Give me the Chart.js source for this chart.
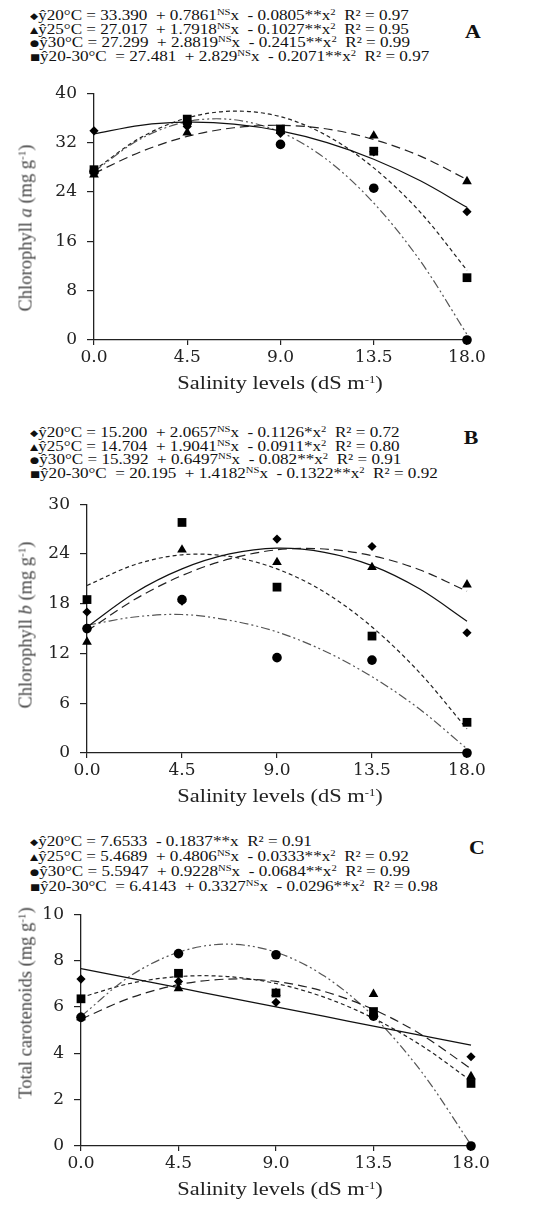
<!DOCTYPE html>
<html>
<head>
<meta charset="utf-8">
<script src="https://cdn.jsdelivr.net/npm/chart.js@4.4.1/dist/chart.umd.min.js"></script>
<style>
  body { margin: 0; width: 534px; height: 1209px; background: #fff; position: relative; overflow: hidden;
         font-family: "Liberation Serif", "Times New Roman", serif; color: #111; }
  canvas { position: absolute; left: 0; }
  .eq { position: absolute; left: 30px; font-size: 14.5px; white-space: pre; transform: scaleX(1.18); transform-origin: 0 0; }
  .eq div { height: 13.5px; line-height: 13.5px; }
  .eq sup { font-size: 9px; vertical-align: 5px; line-height: 0; }
  .eq .mk { font-size: 9px; font-family: "DejaVu Sans", sans-serif; vertical-align: 1px; }
  .tag { position: absolute; font-weight: bold; font-size: 19px; transform: translate(-50%, -50%) scaleX(1.15); }
  .ytitle { position: absolute; transform: translate(-50%, -50%) rotate(-90deg); white-space: nowrap;
            font-size: 18.5px; color: #444; }
  .ytitle sup, .xtitle sup { font-size: 11px; vertical-align: 6px; line-height: 0; }
  .xtitle { position: absolute; transform: translate(-50%, -50%) scaleX(1.15); white-space: nowrap; font-size: 19.5px; color: #222; }
</style>
</head>
<body>
<script>
// x levels and tick labels
const salinity = [0, 4.5, 9, 13.5, 18];
const curveX = [0, 2.25, 4.5, 6.75, 9, 11.25, 13.5, 15.75, 18];
const seriesNames = ['20°C', '25°C', '30°C', '20-30°C'];

// A - chlorophyll a
const yTicksA = [0, 8, 16, 24, 32, 40];
const chlA20 = [33.9, 34.6, 33.5, 30.5, 20.8];
const chlA25 = [26.8, 33.6, 33.9, 33.1, 25.7];
const chlA30 = [27.3, 35.2, 31.7, 24.6, 0];
const chlA2030 = [27.6, 35.8, 34.2, 30.6, 10.1];
const fitA20 = [33.4, 34.8, 35.3, 35.0, 33.9, 32.0, 29.3, 25.8, 21.5];
const fitA25 = [27.0, 30.5, 33.0, 34.4, 34.8, 34.2, 32.5, 29.8, 26.0];
const fitA30 = [27.3, 32.6, 35.4, 35.7, 33.7, 29.2, 22.2, 12.8, 0.9];
const fitA2030 = [27.5, 32.8, 36.0, 37.1, 36.2, 33.1, 27.9, 20.7, 11.3];
const eqA = [
  ['◆', 'ŷ20°C = 33.390  + 0.7861<sup>NS</sup>x  - 0.0805**x<sup>2</sup>  R² = 0.97'],
  ['▲', 'ŷ25°C = 27.017  + 1.7918<sup>NS</sup>x  - 0.1027**x<sup>2</sup>  R² = 0.95'],
  ['●', 'ŷ30°C = 27.299  + 2.8819<sup>NS</sup>x  - 0.2415**x<sup>2</sup>  R² = 0.99'],
  ['■', 'ŷ20-30°C  = 27.481  + 2.829<sup>NS</sup>x  - 0.2071**x<sup>2</sup>  R² = 0.97']
];

// B - chlorophyll b
const yTicksB = [0, 6, 12, 18, 24, 30];
const chlB20 = [17.0, 18.3, 25.8, 24.9, 14.5];
const chlB25 = [13.4, 24.5, 23.0, 22.4, 20.3];
const chlB30 = [15.0, 18.5, 11.5, 11.2, 0];
const chlB2030 = [18.5, 27.8, 20.0, 14.1, 3.7];
const fitB20 = [15.2, 19.3, 22.2, 24.0, 24.7, 24.2, 22.6, 19.8, 15.9];
const fitB25 = [14.7, 18.5, 21.4, 23.4, 24.5, 24.6, 23.8, 22.1, 19.5];
const fitB30 = [15.4, 16.4, 16.7, 16.0, 14.6, 12.3, 9.2, 5.3, 0.5];
const fitB2030 = [20.2, 22.7, 23.9, 23.7, 22.2, 19.4, 15.2, 9.7, 2.9];
const eqB = [
  ['◆', 'ŷ20°C = 15.200  + 2.0657<sup>NS</sup>x  - 0.1126*x<sup>2</sup>  R² = 0.72'],
  ['▲', 'ŷ25°C = 14.704  + 1.9041<sup>NS</sup>x  - 0.0911*x<sup>2</sup>  R² = 0.80'],
  ['●', 'ŷ30°C = 15.392  + 0.6497<sup>NS</sup>x  - 0.082**x<sup>2</sup>  R² = 0.91'],
  ['■', 'ŷ20-30°C  = 20.195  + 1.4182<sup>NS</sup>x  - 0.1322**x<sup>2</sup>  R² = 0.92']
];

// C - total carotenoids
const yTicksC = [0, 2, 4, 6, 8, 10];
const carC20 = [7.2, 7.1, 6.2, 5.6, 3.85];
const carC25 = [5.55, 6.8, 6.6, 6.55, 3.0];
const carC30 = [5.55, 8.3, 8.25, 5.6, 0];
const carC2030 = [6.35, 7.45, 6.6, 5.8, 2.7];
const fitC20 = [7.65, 7.24, 6.83, 6.41, 6.0, 5.59, 5.17, 4.76, 4.35];
const fitC25 = [5.47, 6.38, 6.96, 7.2, 7.1, 6.66, 5.89, 4.78, 3.33];
const fitC30 = [5.59, 7.32, 8.36, 8.71, 8.36, 7.32, 5.59, 3.16, 0.05];
const fitC2030 = [6.41, 7.01, 7.31, 7.31, 7.01, 6.41, 5.51, 4.31, 2.81];
const eqC = [
  ['◆', 'ŷ20°C = 7.6533  - 0.1837**x  R² = 0.91'],
  ['▲', 'ŷ25°C = 5.4689  + 0.4806<sup>NS</sup>x  - 0.0333**x<sup>2</sup>  R² = 0.92'],
  ['●', 'ŷ30°C = 5.5947  + 0.9228<sup>NS</sup>x  - 0.0684**x<sup>2</sup>  R² = 0.99'],
  ['■', 'ŷ20-30°C  = 6.4143  + 0.3327<sup>NS</sup>x  - 0.0296**x<sup>2</sup>  R² = 0.98']
];

// marker + line look for each temperature
const seriesStyle = [
  { point: 'rectRot', radius: 4.6, dash: [], color: '#111' },
  { point: 'triangle', radius: 5.6, dash: [9, 5], color: '#222' },
  { point: 'circle', radius: 4.8, dash: [9, 3, 2, 3, 2, 3], color: '#555' },
  { point: 'rect', radius: 6.2, dash: [4, 3], color: '#222' }
];

function addText(cls, html, left, top) {
  const d = document.createElement('div');
  d.className = cls;
  d.innerHTML = html;
  d.style.left = left + 'px';
  d.style.top = top + 'px';
  document.body.appendChild(d);
  return d;
}

function buildDatasets(obs, fits) {
  const sets = [];
  obs.forEach((vals, i) => {
    const st = seriesStyle[i];
    sets.push({
      label: seriesNames[i],
      data: salinity.map((x, j) => ({ x: x, y: vals[j] })),
      showLine: false,
      pointStyle: st.point,
      pointRadius: st.radius,
      backgroundColor: '#000',
      borderColor: '#000',
      borderWidth: 0,
      clip: false,
      order: 1
    });
  });
  fits.forEach((vals, i) => {
    const st = seriesStyle[i];
    sets.push({
      label: seriesNames[i] + ' fit',
      data: curveX.map((x, j) => ({ x: x, y: vals[j] })),
      showLine: true,
      pointRadius: 0,
      borderColor: st.color,
      borderWidth: 1.2,
      borderDash: st.dash,
      tension: 0.33,
      fill: false,
      clip: false,
      order: 2
    });
  });
  return sets;
}

function makePanel(p) {
  const padTop = 12, xAxisH = 34;
  const canvasTop = p.top - padTop;
  const canvas = document.createElement('canvas');
  canvas.width = 534;
  canvas.height = p.bottom + xAxisH - canvasTop;
  canvas.style.top = canvasTop + 'px';
  document.body.appendChild(canvas);

  const axisColor = '#222';
  const tickFont = { family: "'DejaVu Serif', serif", size: 17 };

  new Chart(canvas.getContext('2d'), {
    type: 'scatter',
    data: { datasets: buildDatasets(p.obs, p.fits) },
    options: {
      responsive: false,
      animation: false,
      layout: { padding: { top: padTop, right: 534 - p.right, left: 0, bottom: 0 } },
      plugins: { legend: { display: false }, tooltip: { enabled: false } },
      scales: {
        x: {
          type: 'linear',
          min: salinity[0],
          max: salinity[salinity.length - 1],
          afterBuildTicks: s => { s.ticks = salinity.map(v => ({ value: v })); },
          afterFit: s => { s.height = xAxisH; },
          ticks: { callback: v => v.toFixed(1), font: tickFont, color: axisColor, padding: 2, maxRotation: 0, autoSkip: false },
          grid: { drawOnChartArea: false, tickLength: 5, color: axisColor, lineWidth: 1.2 },
          border: { color: axisColor, width: 1.3 }
        },
        y: {
          min: p.yTicks[0],
          max: p.yTicks[p.yTicks.length - 1],
          afterBuildTicks: s => { s.ticks = p.yTicks.map(v => ({ value: v })); },
          afterFit: s => { s.width = p.left; },
          ticks: { font: tickFont, color: axisColor, padding: 10 },
          grid: { drawOnChartArea: false, tickLength: 7, color: axisColor, lineWidth: 1.2 },
          border: { color: axisColor, width: 1.3 }
        }
      }
    }
  });

  // equations above the plot
  const eq = addText('eq', p.eq.map(r => '<div><span class="mk">' + r[0] + '</span>' + r[1] + '</div>').join(''), 30, p.eqTop);
  eq.querySelectorAll('div').forEach(d => { d.style.height = p.eqGap + 'px'; d.style.lineHeight = p.eqGap + 'px'; });
  addText('tag', p.tag, p.tagX, p.tagY);
  addText('ytitle', p.yTitle, 26, p.yTitleY);
  addText('xtitle', 'Salinity levels (dS m<sup>-1</sup>)', 280, p.bottom + 43);
}

document.addEventListener('DOMContentLoaded', () => {
  makePanel({
    top: 85, bottom: 340, left: 94, right: 467, yTicks: yTicksA,
    obs: [chlA20, chlA25, chlA30, chlA2030], fits: [fitA20, fitA25, fitA30, fitA2030],
    eq: eqA, eqTop: 9, eqGap: 13.5, tag: 'A', tagX: 473, tagY: 32,
    yTitle: 'Chlorophyll <i>a</i> (mg g<sup>-1</sup>)', yTitleY: 228
  });
  makePanel({
    top: 496, bottom: 753, left: 87, right: 467, yTicks: yTicksB,
    obs: [chlB20, chlB25, chlB30, chlB2030], fits: [fitB20, fitB25, fitB30, fitB2030],
    eq: eqB, eqTop: 426, eqGap: 13.5, tag: 'B', tagX: 471, tagY: 438,
    yTitle: 'Chlorophyll <i>b</i> (mg g<sup>-1</sup>)', yTitleY: 625
  });
  makePanel({
    top: 906, bottom: 1146, left: 81, right: 471, yTicks: yTicksC,
    obs: [carC20, carC25, carC30, carC2030], fits: [fitC20, fitC25, fitC30, fitC2030],
    eq: eqC, eqTop: 834, eqGap: 15, tag: 'C', tagX: 477, tagY: 848,
    yTitle: 'Total carotenoids (mg g<sup>-1</sup>)', yTitleY: 1003
  });
});
</script>
</body>
</html>
